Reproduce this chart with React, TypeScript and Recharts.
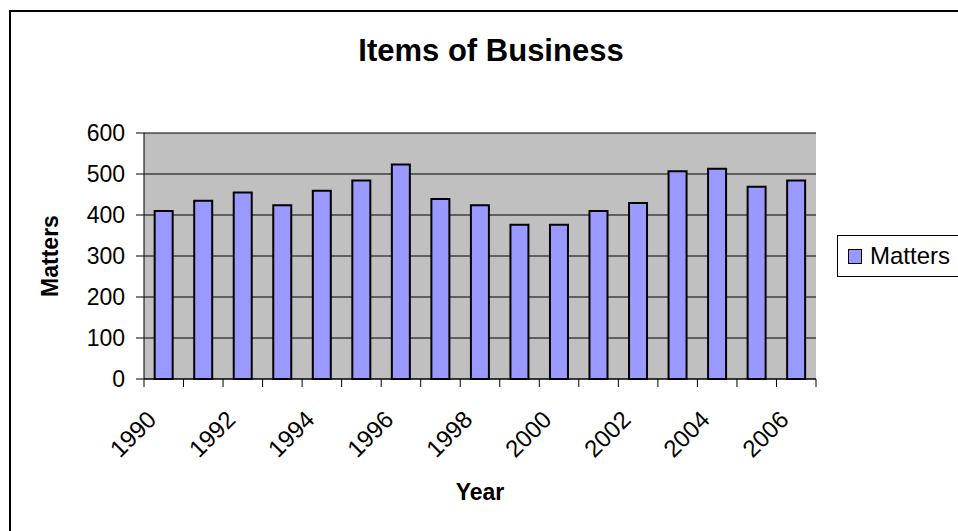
import React from "react";
import {
  BarChart,
  Bar,
  XAxis,
  YAxis,
  CartesianGrid,
  Legend,
} from "recharts";

const years = [
  "1990", "1991", "1992", "1993", "1994", "1995", "1996", "1997", "1998",
  "1999", "2000", "2001", "2002", "2003", "2004", "2005", "2006",
];
const matters = [
  410, 435, 455, 424, 459, 484, 523, 439, 424, 376, 376, 410, 429, 507, 513, 469, 484,
];
const yTicks = [0, 100, 200, 300, 400, 500, 600];

const FONT = "'Liberation Sans', Arial, Helvetica, sans-serif";
const BAR_FILL = "#9999FF";
const W = 958;
const H = 531;
const MARGIN = { top: 133, right: 142, bottom: 1, left: 0 };
const HALF_BAND = (W - MARGIN.left - 144 - MARGIN.right) / years.length / 2;

const data = years.map((year, i) => ({ year, matters: matters[i] }));

function YearTick(props: any) {
  const { x, y, payload, index } = props;
  const half = payload?.offset || HALF_BAND;
  const last = index === years.length - 1;
  const showLabel = index % 2 === 0;
  return (
    <g>
      <line x1={x - half} y1={y - 8} x2={x - half} y2={y} stroke="#000" strokeWidth={1} />
      {last && (
        <line x1={x + half} y1={y - 8} x2={x + half} y2={y} stroke="#000" strokeWidth={1} />
      )}
      {showLabel && (
        <text
          x={x - 6}
          y={y + 34}
          textAnchor="end"
          transform={`rotate(-45, ${x - 6}, ${y + 34})`}
          fontSize={24}
          fontFamily={FONT}
          fill="#000"
        >
          {payload.value}
        </text>
      )}
    </g>
  );
}

function MattersLegend() {
  return (
    <div
      style={{
        width: 160,
        height: 42,
        border: "1px solid #000",
        background: "#fff",
        display: "flex",
        alignItems: "center",
        fontFamily: FONT,
        fontSize: 24,
        color: "#000",
        boxSizing: "border-box",
      }}
    >
      <span
        style={{
          display: "inline-block",
          width: 12,
          height: 13,
          marginLeft: 10,
          marginRight: 8,
          background: BAR_FILL,
          border: "1.5px solid #000",
        }}
      />
      <span>Matters</span>
    </div>
  );
}

export default function App() {
  return (
    <div
      style={{
        position: "fixed",
        left: 0,
        top: 0,
        width: W,
        height: H,
        overflow: "hidden",
        background: "#fff",
      }}
    >
      <div
        style={{
          position: "absolute",
          left: 9,
          top: 10,
          width: 1000,
          height: 600,
          borderTop: "2px solid #000",
          borderLeft: "2px solid #000",
        }}
      />
      <div
        style={{
          position: "absolute",
          left: 0,
          width: 982,
          top: 33,
          textAlign: "center",
          fontFamily: FONT,
          fontWeight: "bold",
          fontSize: 31,
          lineHeight: "35px",
          color: "#000",
        }}
      >
        Items of Business
      </div>
      <div style={{ position: "absolute", left: 0, top: 0 }}>
        <BarChart width={W} height={H} data={data} margin={MARGIN} barCategoryGap="27%">
          <CartesianGrid
            vertical={false}
            stroke="#000"
            strokeWidth={1}
            fill="#C0C0C0"
            fillOpacity={1}
          />
          <XAxis
            xAxisId="top"
            orientation="top"
            dataKey="year"
            height={0}
            tick={false}
            tickLine={false}
            axisLine={{ stroke: "#808080", strokeWidth: 1.5 }}
          />
          <YAxis
            yAxisId="right"
            orientation="right"
            width={0}
            domain={[0, 600]}
            ticks={yTicks}
            tick={false}
            tickLine={false}
            axisLine={{ stroke: "#808080", strokeWidth: 1.5 }}
          />
          <XAxis
            dataKey="year"
            height={151}
            interval={0}
            tickLine={false}
            tickSize={8}
            tickMargin={0}
            tick={<YearTick />}
            axisLine={{ stroke: "#000", strokeWidth: 1 }}
            label={{
              value: "Year",
              position: "insideBottom",
              offset: 30,
              style: { fontFamily: FONT, fontWeight: "bold", fontSize: 23, fill: "#000" },
            }}
          />
          <YAxis
            width={144}
            domain={[0, 600]}
            ticks={yTicks}
            interval={0}
            tickSize={8}
            tickMargin={11}
            tickLine={{ stroke: "#000" }}
            axisLine={{ stroke: "#000", strokeWidth: 1 }}
            tick={{ fontFamily: FONT, fontSize: 23, fill: "#000" }}
            label={{
              value: "Matters",
              angle: -90,
              position: "insideLeft",
              offset: 50,
              style: {
                fontFamily: FONT,
                fontWeight: "bold",
                fontSize: 23,
                fill: "#000",
                textAnchor: "middle",
              },
            }}
          />
          <Legend
            align="center"
            verticalAlign="middle"
            layout="horizontal"
            content={() => <MattersLegend />}
            wrapperStyle={{ left: 837, top: 235, width: 160, height: 42 }}
          />
          <Bar
            dataKey="matters"
            name="Matters"
            fill={BAR_FILL}
            stroke="#000"
            strokeWidth={2}
            isAnimationActive={false}
          />
        </BarChart>
      </div>
    </div>
  );
}
